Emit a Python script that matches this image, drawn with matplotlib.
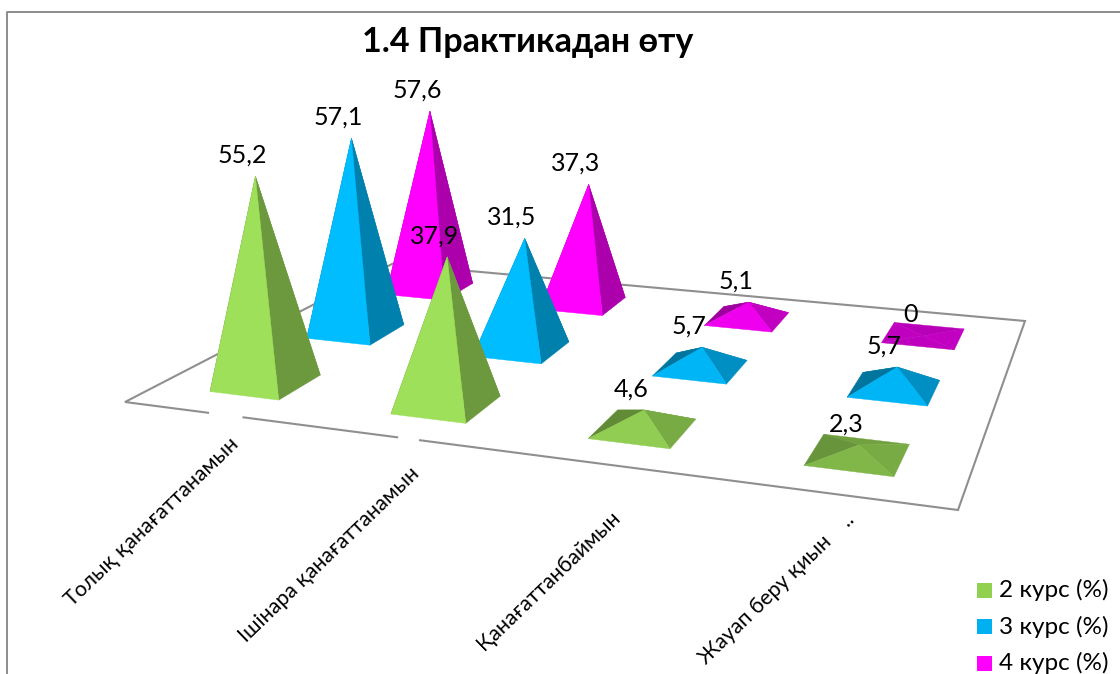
"""
Perspective pyramid chart: practice satisfaction by study year.
"""

from __future__ import annotations

import matplotlib

matplotlib.use("Agg")

import matplotlib.pyplot as plt
import numpy as np
from matplotlib.patches import Polygon, Rectangle

FONT = ["Lato", "Open Sans", "DejaVu Sans"]

TITLE = "1.4 Практикадан өту"
categories = ["Толық қанағаттанамын", "Ішінара қанағаттанамын", "Қанағаттанбаймын", "Жауап беру қиын    .."]
series_names = ["2 курс (%)", "3 курс (%)", "4 курс (%)"]
course_2 = [55.2, 37.9, 4.6, 2.3]
course_3 = [57.1, 31.5, 5.7, 5.7]
course_4 = [57.6, 37.3, 5.1, 0]
value_labels = [
    ["55,2", "37,9", "4,6", "2,3"],
    ["57,1", "31,5", "5,7", "5,7"],
    ["57,6", "37,3", "5,1", "0"],
]

face_colors = [(0.62, 0.88, 0.35), (0.0, 0.74, 1.0), (1.0, 0.0, 1.0)]
legend_colors = ["#92D050", "#00B0F0", "#FF00FF"]

# floor plane corners in pixels: front-left, front-right, back-right, back-left
FLOOR_PX = np.array([[125, 402], [958, 510], [1025, 321], [392, 264]], dtype=float)
HALF_U, HALF_V = 0.195, 0.215


def fit_homography(src: np.ndarray, dst: np.ndarray) -> np.ndarray:
    rows, rhs = [], []
    for (u, v), (x, y) in zip(src, dst):
        rows.append([u, v, 1, 0, 0, 0, -u * x, -v * x])
        rows.append([0, 0, 0, u, v, 1, -u * y, -v * y])
        rhs += [x, y]
    return np.append(np.linalg.solve(np.array(rows), np.array(rhs)), 1.0).reshape(3, 3)


FLOOR_H = fit_homography(np.array([[0, 0], [4, 0], [4, 3], [0, 3]], dtype=float), FLOOR_PX)


def floor_point(u: float, v: float) -> tuple[np.ndarray, float]:
    x, y, w = FLOOR_H @ np.array([u, v, 1.0])
    return np.array([x / w, y / w]), w


REF_W = floor_point(0.5, 0.5)[1]


def apex_point(u: float, v: float, value: float) -> np.ndarray:
    base, w = floor_point(u, v)
    height = 3.75 * value * REF_W / w
    # verticals converge a little, like the camera in the original
    return np.array([base[0] + height * (base[0] - 430) / 3200, base[1] - height])


def shade(color, factor: float):
    return tuple(min(1.0, c * factor) for c in color)


def draw_pyramid(ax, u: float, v: float, value: float, color) -> np.ndarray:
    fl = floor_point(u - HALF_U, v - HALF_V)[0]
    fr = floor_point(u + HALF_U, v - HALF_V)[0]
    br = floor_point(u + HALF_U, v + HALF_V)[0]
    bl = floor_point(u - HALF_U, v + HALF_V)[0]
    apex = apex_point(u, v, value)

    front = max(0.75, min(1.0, 0.72 + 0.042 * value))
    right = 0.76 if value < 10 else 0.68
    left = max(0.62, 0.75 - 0.04 * value)
    faces = [
        ([bl, br, apex], 0.72),
        ([bl, fl, apex], left),
        ([br, fr, apex], right),
        ([fl, fr, apex], front),
    ]
    for pts, factor in faces:
        c = shade(color, factor)
        ax.add_patch(Polygon(pts, closed=True, facecolor=c, edgecolor=c, linewidth=0.3))
    return apex


def main() -> None:
    fig = plt.figure(figsize=(11.2, 6.74), dpi=100)
    ax = fig.add_axes([0, 0, 1, 1])
    ax.set_xlim(0, 1120)
    ax.set_ylim(674, 0)
    ax.axis("off")

    # chart frame, cut by the picture on the right and bottom
    ax.plot([6.5, 6.5, 1120], [674, 11.5, 11.5], color="#8c8c8c", lw=1.4)

    ax.add_patch(Polygon(FLOOR_PX, closed=True, fill=False, edgecolor="#8f8f8f", linewidth=1.5, joinstyle="miter"))
    # the white notches in the front edge next to the axis labels
    for u0, u1 in [(0.476, 0.66), (1.48, 1.585)]:
        a, b = floor_point(u0, 0)[0], floor_point(u1, 0)[0]
        ax.plot([a[0], b[0]], [a[1], b[1]], color="white", lw=3.5, solid_capstyle="butt")

    series = [course_2, course_3, course_4]
    tops = {}
    for s in [2, 1, 0]:
        for c, value in enumerate(series[s]):
            tops[(s, c)] = draw_pyramid(ax, c + 0.5, s + 0.5, value, face_colors[s])

    for s in [2, 1, 0]:
        for c in range(len(categories)):
            x, y = tops[(s, c)]
            ax.text(x - 13, y - 21, value_labels[s][c], ha="center", va="center",
                    fontsize=18, family=FONT, color="black", zorder=5)

    ax.text(528, 42, TITLE, ha="center", va="center", fontsize=24.5, fontweight="bold", family=FONT)

    # axis labels hang from their upper right end
    label_ends = [(236, 441), (416, 471), (617, 514), (851, 517)]
    for text, (x, y) in zip(categories, label_ends):
        ax.text(x, y, text, rotation=44, rotation_mode="anchor", ha="right", va="center",
                fontsize=15.3, family=FONT, color="black")

    for i, name in enumerate(series_names):
        y = 590 + i * 36.5
        ax.add_patch(Rectangle((977, y - 7.5), 15, 15, facecolor=legend_colors[i], edgecolor="none"))
        ax.text(999, y, name, ha="left", va="center", fontsize=17.5, family=FONT, color="black")

    fig.savefig("out.png", dpi=100)
    plt.close(fig)


if __name__ == "__main__":
    main()
